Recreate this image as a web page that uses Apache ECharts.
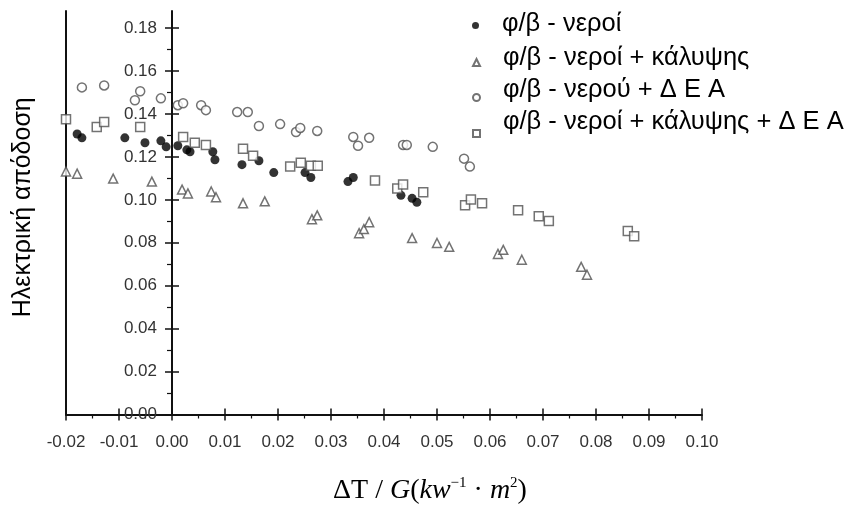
<!DOCTYPE html>
<html>
<head>
<meta charset="utf-8">
<script src="https://cdn.jsdelivr.net/npm/echarts@6/dist/echarts.min.js"></script>
<style>
html,body{margin:0;padding:0;background:#fff;}
#chart{width:851px;height:510px;}
</style>
</head>
<body>
<div id="chart"></div>
<script>
// ---- data (ΔT/G, electrical efficiency) ----
const seriesNames = [
  'φ/β - νεροί',
  'φ/β - νεροί + κάλυψης',
  'φ/β - νερού + Δ Ε Α',
  'φ/β - νεροί + κάλυψης + Δ Ε Α'
];
const waterPts = [
  [-0.0179,0.1307],[-0.0170,0.1289],[-0.0089,0.1289],[-0.0051,0.1266],[-0.0021,0.1275],
  [-0.0011,0.1247],[0.0011,0.1252],[0.0028,0.1233],[0.0034,0.1224],[0.0077,0.1224],
  [0.0081,0.1187],[0.0132,0.1164],[0.0164,0.1182],[0.0192,0.1127],[0.0251,0.1127],
  [0.0262,0.1104],[0.0332,0.1085],[0.0342,0.1104],[0.0432,0.1021],[0.0453,0.1007],
  [0.0462,0.0989]
];
const coverPts = [
  [-0.0200,0.1132],[-0.0179,0.1122],[-0.0111,0.1099],[-0.0038,0.1085],[0.0019,0.1048],
  [0.0030,0.1030],[0.0074,0.1039],[0.0083,0.1012],[0.0134,0.0984],[0.0175,0.0993],
  [0.0264,0.0910],[0.0274,0.0928],[0.0353,0.0845],[0.0362,0.0864],[0.0372,0.0896],
  [0.0453,0.0822],[0.0500,0.0799],[0.0523,0.0781],[0.0615,0.0748],[0.0625,0.0767],
  [0.0660,0.0721],[0.0772,0.0688],[0.0783,0.0651]
];
const deaPts = [
  [-0.0170,0.1524],[-0.0128,0.1533],[-0.0070,0.1464],[-0.0060,0.1506],[-0.0021,0.1473],
  [0.0011,0.1441],[0.0021,0.1450],[0.0055,0.1441],[0.0064,0.1418],[0.0123,0.1409],
  [0.0143,0.1409],[0.0164,0.1344],[0.0204,0.1353],[0.0234,0.1316],[0.0242,0.1335],
  [0.0274,0.1321],[0.0342,0.1293],[0.0351,0.1252],[0.0372,0.1289],[0.0436,0.1256],
  [0.0443,0.1256],[0.0492,0.1247],[0.0551,0.1192],[0.0562,0.1155]
];
const coverDeaPts = [
  [-0.0200,0.1376],[-0.0142,0.1339],[-0.0128,0.1363],[-0.0060,0.1339],[0.0021,0.1293],
  [0.0043,0.1266],[0.0064,0.1256],[0.0134,0.1238],[0.0153,0.1206],[0.0223,0.1155],
  [0.0243,0.1173],[0.0262,0.1159],[0.0275,0.1159],[0.0383,0.1090],[0.0425,0.1053],
  [0.0436,0.1072],[0.0474,0.1035],[0.0553,0.0975],[0.0564,0.1002],[0.0585,0.0984],
  [0.0653,0.0952],[0.0692,0.0924],[0.0711,0.0901],[0.0860,0.0855],[0.0872,0.0831]
];
const yMajorTicks = [0,0.02,0.04,0.06,0.08,0.10,0.12,0.14,0.16,0.18];
const yMinorTicks = [0.01,0.03,0.05,0.07,0.09,0.11,0.13,0.15,0.17];
const yTitle = 'Ηλεκτρική απόδοση';

// ---- chart ----
const chart = echarts.init(document.getElementById('chart'));
const INK = '#111';
const MARK = '#505050';
const SANS = 'Liberation Sans, Arial, sans-serif';
const SERIF = 'Liberation Serif, Times New Roman, serif';

const baseX = {
  type:'value', min:-0.02, max:0.10, interval:0.01, position:'bottom',
  splitLine:{show:false}
};
const baseY = {
  type:'value', min:0, max:0.188, position:'left',
  splitLine:{show:false}
};

const LEG_FONT = 25.5;
const symbolLegendTops = [26, 62, 97, 133];
const textLegendTops = [24, 58, 90, 122];
const legends = [];
seriesNames.forEach((n,i)=>{
  legends.push({
    data:[n], left:472, top:symbolLegendTops[i]-4, padding:0,
    itemWidth:7, itemHeight:7, formatter:()=>'', selectedMode:false
  });
  legends.push({
    data:[n], left:497, top:textLegendTops[i]-LEG_FONT/2, padding:0,
    itemWidth:0, itemHeight:0, selectedMode:false,
    textStyle:{color:'#000', fontSize:LEG_FONT, fontFamily:SANS}
  });
});

const hollow = {color:'#fff', borderColor:MARK, borderWidth:1.5};

chart.setOption({
  animation:false,
  backgroundColor:'#fff',
  grid:{left:66, right:149, top:418-0.188*2165, bottom:92, containLabel:false},
  legend:legends,
  xAxis:[
    Object.assign({}, baseX, {
      axisLine:{onZero:false, lineStyle:{color:INK, width:2}},
      axisTick:{show:true, length:6, lineStyle:{color:INK, width:1.5}},
      minorTick:{show:true, splitNumber:2, length:4, lineStyle:{color:INK, width:1.2}},
      axisLabel:{margin:19, formatter:v=>v.toFixed(2), fontSize:17, color:'#333', fontFamily:SANS},
      name:'{n|ΔT / }{i|G}{n|(}{i|kw}{s|−1}{n| · }{i|m}{s|2}{n|)}',
      nameLocation:'middle', nameGap:61,
      nameTextStyle:{
        padding:[0,0,0,92],
        rich:{
          n:{fontFamily:SERIF, fontSize:28, color:'#000'},
          i:{fontFamily:SERIF, fontSize:28, fontStyle:'italic', color:'#000'},
          s:{fontFamily:SERIF, fontSize:15, color:'#000', padding:[0,0,16,0]}
        }
      }
    }),
    Object.assign({}, baseX, {
      axisLine:{show:false, onZero:false},
      axisTick:{show:true, inside:true, length:6, lineStyle:{color:INK, width:1.5}},
      axisLabel:{show:false}
    })
  ],
  yAxis:[
    Object.assign({}, baseY, {
      offset:-106,
      axisLine:{onZero:false, lineStyle:{color:INK, width:2}},
      axisTick:{show:true, customValues:yMajorTicks, length:7, lineStyle:{color:INK, width:1.5}},
      axisLabel:{customValues:yMajorTicks, margin:15, formatter:v=>v.toFixed(2),
                 color:'#333', fontSize:17, fontFamily:SANS}
    }),
    Object.assign({}, baseY, {
      offset:-106,
      axisLine:{show:false, onZero:false},
      axisTick:{show:true, inside:true, customValues:yMajorTicks, length:7, lineStyle:{color:INK, width:1.5}},
      axisLabel:{show:false}
    }),
    Object.assign({}, baseY, {
      offset:-106,
      axisLine:{show:false, onZero:false},
      axisTick:{show:true, customValues:yMinorTicks, length:5, lineStyle:{color:INK, width:1.2}},
      axisLabel:{show:false}
    }),
    Object.assign({}, baseY, {
      offset:0,
      axisLine:{onZero:false, lineStyle:{color:INK, width:2}},
      axisTick:{show:false},
      axisLabel:{show:false},
      name:yTitle, nameLocation:'middle', nameGap:30, nameRotate:90,
      nameTextStyle:{color:'#000', fontSize:25, fontFamily:SANS, padding:[0,0,0,11]}
    })
  ],
  series:[
    {name:seriesNames[0], type:'scatter', data:waterPts, symbol:'circle', symbolSize:9,
     itemStyle:{color:'#000'}},
    {name:seriesNames[1], type:'scatter', data:coverPts, symbol:'triangle', symbolSize:9,
     itemStyle:hollow},
    {name:seriesNames[2], type:'scatter', data:deaPts, symbol:'circle', symbolSize:9,
     itemStyle:hollow},
    {name:seriesNames[3], type:'scatter', data:coverDeaPts, symbol:'rect', symbolSize:9,
     itemStyle:hollow}
  ]
});
</script>
</body>
</html>
